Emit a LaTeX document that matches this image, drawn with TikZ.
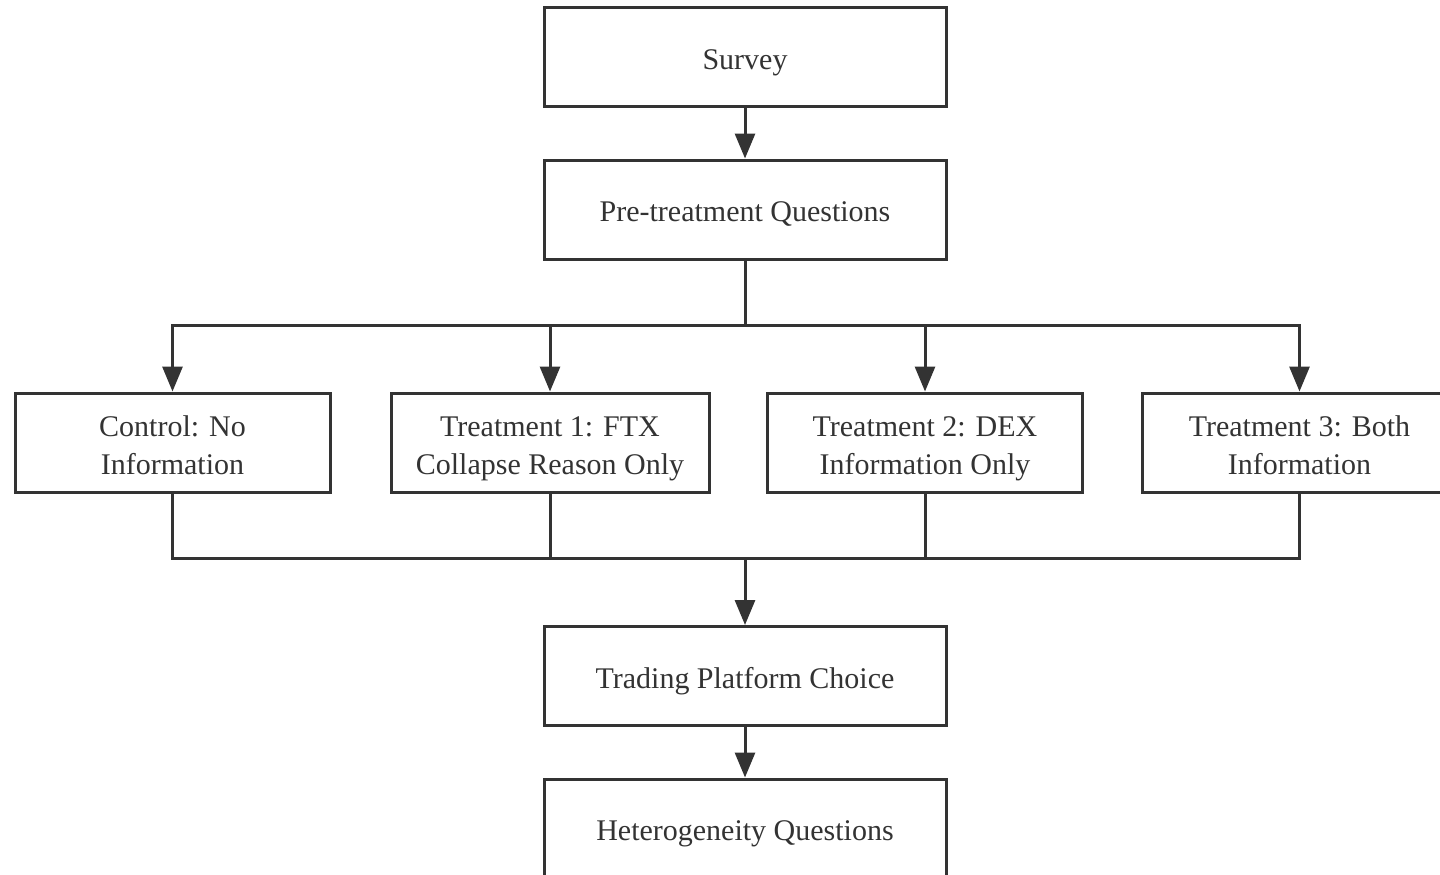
\documentclass[tikz,border=0pt]{standalone}
\usepackage{fontspec}
\setmainfont{Liberation Serif}
\usetikzlibrary{arrows.meta}
\definecolor{ink}{HTML}{333333}

\begin{document}
\begin{tikzpicture}[x=1pt, y=-1pt,
        box/.style={draw=ink, line width=3pt, text=ink, align=center,
            minimum width=402pt, minimum height=99pt, inner sep=0pt,
            text height=24.5pt, text depth=0pt,
            font=\fontsize{30}{38}\selectfont},
        smallbox/.style={box, minimum width=315pt, text height=63pt},
        link/.style={draw=ink, line width=3pt, line join=miter},
        arr/.style={link, -{Triangle[length=25pt, width=20pt]}}]
        \useasboundingbox (0,0) rectangle (1440,875);

        % main column
        \node[box] (survey) at (745,57) {Survey};
        \node[box] (pre) at (745,209.5) {Pre-treatment Questions};

        % the four groups
        \node[smallbox] (ctrl) at (172.5,442.5) {Control: No\\Information};
        \node[smallbox, minimum width=318pt] (tone) at (550,442.5) {Treatment 1: FTX\\Collapse Reason Only};
        \node[smallbox] (ttwo) at (925,442.5) {Treatment 2: DEX\\Information Only};
        \node[smallbox] (tthree) at (1299.5,442.5) {Treatment 3: Both\\Information};

        \node[box] (trade) at (745,676) {Trading Platform Choice};
        \node[box] (hetero) at (745,828.5) {Heterogeneity Questions};

        \coordinate (split) at (745,325);
        \coordinate (merge) at (745,558);

        \draw[arr] (survey) -- (pre);
        \draw[link] (pre) -- (split);
        \draw[arr] (split) -| (ctrl);
        \draw[arr] (split) -| (tone);
        \draw[arr] (split) -| (ttwo);
        \draw[arr] (split) -| (tthree);

        \draw[link] (ctrl) |- (merge);
        \draw[link] (tone) |- (merge);
        \draw[link] (ttwo) |- (merge);
        \draw[link] (tthree) |- (merge);
        \draw[arr] (merge) -- (trade);
        \draw[arr] (trade) -- (hetero);
    \end{tikzpicture}
\end{document}
